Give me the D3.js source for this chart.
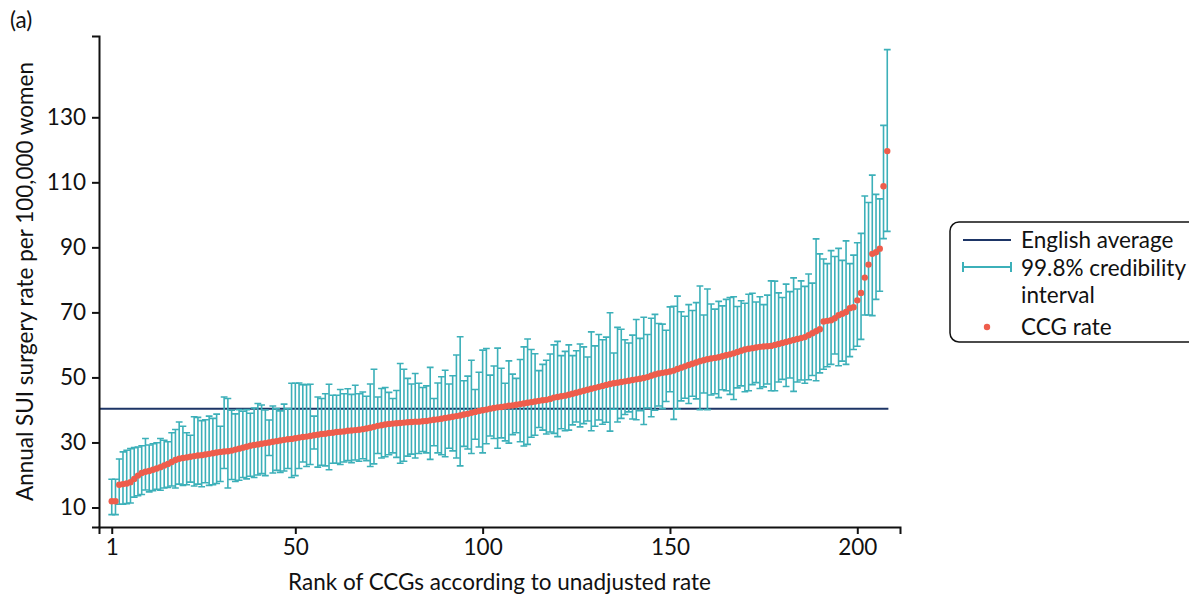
<!DOCTYPE html>
<html>
<head>
<meta charset="utf-8">
<script src="https://cdn.jsdelivr.net/npm/d3@7"></script>
<style>
  body { margin: 0; background: #fff; }
  text { font-family: Lato, "Noto Sans", sans-serif; fill: #111; }
</style>
</head>
<body>
<script>
// CCG rates (sorted by rank), lower and upper 99.8% credibility limits
var rate = [
  11.9, 11.9, 17.0, 17.2, 17.4, 17.8, 18.8, 19.8, 20.6, 21.0,
  21.2, 21.6, 22.0, 22.4, 22.9, 23.4, 24.0, 24.6, 25.0, 25.2,
  25.4, 25.6, 25.8, 26.0, 26.1, 26.3, 26.5, 26.7, 26.9, 27.1,
  27.2, 27.3, 27.5, 27.8, 28.1, 28.4, 28.7, 29.0, 29.2, 29.4,
  29.6, 29.8, 30.0, 30.2, 30.4, 30.6, 30.8, 31.0, 31.1, 31.3,
  31.5, 31.7, 31.8, 32.0, 32.2, 32.4, 32.6, 32.7, 32.9, 33.0,
  33.2, 33.3, 33.4, 33.6, 33.7, 33.8, 33.9, 34.1, 34.3, 34.5,
  34.8, 35.1, 35.3, 35.5, 35.7, 35.8, 35.9, 36.0, 36.1, 36.2,
  36.3, 36.4, 36.4, 36.5, 36.6, 36.8, 37.0, 37.1, 37.3, 37.5,
  37.7, 37.9, 38.1, 38.3, 38.6, 38.8, 39.1, 39.4, 39.7, 39.9,
  40.1, 40.4, 40.6, 40.8, 40.9, 41.1, 41.3, 41.4, 41.6, 41.8,
  42.0, 42.2, 42.4, 42.6, 42.8, 43.0, 43.1, 43.4, 43.8, 44.0,
  44.2, 44.4, 44.7, 45.0, 45.3, 45.6, 45.9, 46.2, 46.5, 46.8,
  47.1, 47.4, 47.7, 48.0, 48.2, 48.4, 48.6, 48.8, 49.0, 49.2,
  49.4, 49.6, 49.8, 50.1, 50.5, 50.9, 51.2, 51.4, 51.6, 51.8,
  52.1, 52.6, 53.0, 53.4, 53.8, 54.2, 54.6, 55.0, 55.3, 55.6,
  55.8, 56.0, 56.2, 56.5, 56.8, 57.1, 57.4, 57.8, 58.2, 58.6,
  58.8, 59.0, 59.2, 59.4, 59.5, 59.6, 59.7, 60.0, 60.3, 60.6,
  60.9, 61.2, 61.5, 61.8, 62.1, 62.4, 63.0, 63.6, 64.2, 64.8,
  67.2, 67.4, 67.6, 68.2, 69.1, 69.6, 70.1, 71.3, 71.6, 73.7,
  76.0, 80.7, 84.7, 88.0, 88.5, 89.6, 108.8, 119.6
];
var lower = [
  7.8, 7.8, 11.0, 11.0, 11.2, 11.4, 13.2, 13.6, 14.0, 15.4,
  14.8, 15.2, 15.6, 15.3, 16.0, 16.2, 16.6, 16.0, 17.2, 16.8,
  17.0, 17.8, 16.6, 17.2, 16.4, 17.6, 16.8, 17.0, 17.4, 18.0,
  22.0, 16.0, 18.6, 18.0, 18.4, 19.2, 18.8, 19.6, 19.2, 20.0,
  20.4, 19.8, 26.0, 20.6, 21.4, 20.8, 21.2, 22.0, 19.2, 19.8,
  22.0, 24.0, 22.6, 23.2, 28.0, 22.4, 23.0, 22.8, 21.6, 23.6,
  23.6, 23.2, 24.0, 24.4, 23.8, 24.6, 24.2, 25.0, 24.4, 22.6,
  23.4, 26.6, 25.2, 25.6, 26.2, 26.8, 25.4, 23.6, 24.2, 25.8,
  26.4, 25.2, 26.6, 27.2, 26.8, 24.8, 29.0, 26.8, 26.2, 25.6,
  28.2, 27.4, 25.2, 22.8, 28.8, 28.0, 26.6, 31.0, 28.6, 26.8,
  29.6, 32.0, 31.2, 28.2, 31.4, 30.5, 29.8, 32.4, 33.0, 30.2,
  28.9, 29.4, 31.6, 32.2, 34.6, 33.8, 32.6, 33.2, 32.8, 31.8,
  34.2, 33.6, 33.8, 35.4, 36.3, 34.8, 35.8, 36.6, 33.6, 35.0,
  36.9, 35.6, 36.2, 33.5, 40.2, 36.3, 37.4, 38.6, 39.4, 37.2,
  37.0, 39.8, 35.5, 40.6, 37.9, 39.9, 41.2, 40.4, 42.6, 45.6,
  37.1, 40.2, 42.8, 43.6, 42.0, 44.2, 43.4, 40.1, 45.2, 40.1,
  44.6, 45.0, 43.8, 46.2, 45.9, 44.8, 43.2, 46.8, 47.4, 45.6,
  45.9, 47.8, 48.4, 46.6, 47.1, 48.0, 45.9, 45.9, 48.6, 49.4,
  47.2, 49.8, 45.7, 48.6, 49.2, 48.2, 49.3, 50.6, 49.0, 51.4,
  52.5, 53.3, 54.0, 57.2, 53.6, 55.0, 54.0, 56.4, 58.6, 59.6,
  61.7, 69.2, 69.2, 69.0, 74.0, 76.5, 92.7, 94.9
];
var upper = [
  18.7, 18.7, 24.9, 27.1, 27.6, 28.1, 28.4, 28.6, 29.0, 31.2,
  29.2, 29.6, 29.9, 31.2, 30.7, 30.2, 33.0, 34.0, 36.3, 35.0,
  33.0, 32.2, 37.9, 37.7, 36.7, 37.0, 38.1, 37.4, 38.7, 35.0,
  44.0, 43.5, 39.9, 38.8, 40.1, 39.6, 40.1, 39.0, 40.6, 42.0,
  41.5, 40.0, 36.9, 41.2, 40.4, 39.7, 41.8, 40.4, 48.2, 48.2,
  48.3, 47.8, 47.8, 47.9, 38.1, 44.0, 43.5, 45.0, 47.9, 44.5,
  44.5, 46.3, 45.0, 46.5, 44.8, 47.6, 45.0, 45.5, 44.2, 48.0,
  52.5, 44.0, 46.6, 46.9, 45.4, 43.5, 46.0, 54.3, 52.5, 49.7,
  48.0, 51.2, 48.2, 46.9, 47.4, 53.1, 43.5, 48.3, 50.2, 52.2,
  48.0, 50.5, 56.9, 62.5, 49.0, 50.4, 55.3, 46.3, 51.6, 58.4,
  58.9, 50.7, 53.5, 59.0, 52.8, 48.2, 55.1, 51.0, 49.7, 55.5,
  59.4, 61.8, 58.6, 57.3, 52.1, 54.0, 55.3, 57.2, 60.0, 61.1,
  56.7, 58.0, 60.0, 56.7, 58.2, 60.3, 59.4, 56.3, 64.0, 59.7,
  63.2, 61.6, 62.4, 69.9, 57.5, 65.4, 64.8, 61.6, 60.6, 63.0,
  67.8, 62.0, 68.5, 63.2, 68.2, 69.4, 66.6, 66.4, 64.5, 71.7,
  71.9, 75.0, 70.2, 68.8, 72.4, 70.6, 73.0, 78.1, 69.2, 77.2,
  72.6, 71.0, 73.4, 72.0, 74.0, 74.6, 74.8, 71.8, 73.6, 72.8,
  75.6, 75.9, 73.2, 74.8, 72.4, 75.3, 79.7, 79.6, 76.0, 74.6,
  78.7, 76.4, 80.6, 77.2, 79.7, 78.0, 81.8, 79.0, 92.6, 88.0,
  86.4, 85.0, 89.0, 87.2, 89.7, 86.0, 92.0, 85.0, 87.6, 91.4,
  94.3, 105.8, 103.8, 112.2, 106.3, 104.9, 127.5, 150.8
];
var englishAverage = 40.4;

var xTicks = [1, 50, 100, 150, 200];
var yTicks = [10, 30, 50, 70, 90, 110, 130];

var teal = "#3cb0b9",
    coral = "#ee5d4c",
    navy = "#1d3566";

// plot box (pixels)
var W = 1189, H = 597;
var pLeft = 99, pRight = 900, pTop = 36, pBottom = 527;
var fs = "22.5px";

var svg = d3.select("body").append("svg")
  .attr("width", W)
  .attr("height", H);

// scales
var x = d3.scaleLinear().domain([-2.4, 211.4]).range([pLeft, pRight]);
var y = d3.scaleLinear().domain([4, 155]).range([pBottom, pTop]);

var data = rate.map(function(r, i) {
  return {rank: i + 1, rate: r, lo: lower[i], hi: upper[i]};
});

// english average line (runs to the last CCG)
svg.append("line")
  .attr("x1", x(-2.4)).attr("x2", x(data.length + 0.3))
  .attr("y1", y(englishAverage)).attr("y2", y(englishAverage))
  .attr("stroke", navy)
  .attr("stroke-width", 2);

// credibility intervals
var capW = 3.4;
var bars = svg.append("g")
  .attr("stroke", teal)
  .attr("stroke-width", 1.6)
  .attr("fill", "none");

bars.selectAll("path").data(data)
  .enter().append("path")
  .attr("d", function(d) {
    var cx = x(d.rank), y0 = y(d.lo), y1 = y(d.hi);
    return "M" + (cx - capW) + "," + y1 + "H" + (cx + capW) +
      "M" + cx + "," + y1 + "V" + y0 +
      "M" + (cx - capW) + "," + y0 + "H" + (cx + capW);
  });

// points
svg.append("g").selectAll("circle").data(data)
  .enter().append("circle")
  .attr("cx", function(d) { return x(d.rank); })
  .attr("cy", function(d) { return y(d.rate); })
  .attr("r", 3.2)
  .attr("fill", coral);

// axes
var xAxis = svg.append("g")
  .attr("transform", "translate(0," + pBottom + ")")
  .call(d3.axisBottom(x).tickValues(xTicks).tickSize(7).tickPadding(5));
var yAxis = svg.append("g")
  .attr("transform", "translate(" + pLeft + ",0)")
  .call(d3.axisLeft(y).tickValues(yTicks).tickSize(7).tickPadding(6));

[xAxis, yAxis].forEach(function(a) {
  a.select(".domain").attr("stroke", "#111").attr("stroke-width", 2);
  a.selectAll(".tick line").attr("stroke", "#111").attr("stroke-width", 2);
  a.selectAll(".tick text").style("font-size", fs).attr("fill", "#111");
});

// labels
svg.append("text")
  .attr("x", (pLeft + pRight) / 2)
  .attr("y", 590)
  .attr("text-anchor", "middle")
  .style("font-size", fs)
  .text("Rank of CCGs according to unadjusted rate");

svg.append("text")
  .attr("transform", "translate(33," + ((pTop + pBottom) / 2) + ") rotate(-90)")
  .attr("text-anchor", "middle")
  .style("font-size", fs)
  .text("Annual SUI surgery rate per 100,000 women");

svg.append("text")
  .attr("x", 10).attr("y", 28)
  .style("font-size", fs)
  .text("(a)");

// legend
var lg = svg.append("g").attr("transform", "translate(950,222)");
lg.append("rect")
  .attr("width", 260).attr("height", 120)
  .attr("rx", 9)
  .attr("fill", "#fff")
  .attr("stroke", "#111")
  .attr("stroke-width", 1.5);

lg.append("line")
  .attr("x1", 13).attr("x2", 61).attr("y1", 18).attr("y2", 18)
  .attr("stroke", navy).attr("stroke-width", 2);
lg.append("path")
  .attr("d", "M13,40V50M13,45H61M61,40V50")
  .attr("stroke", teal).attr("stroke-width", 2).attr("fill", "none");
lg.append("circle")
  .attr("cx", 37).attr("cy", 105).attr("r", 3.2)
  .attr("fill", coral);

var legText = [["English average", 26], ["99.8% credibility", 54], ["interval", 81], ["CCG rate", 113]];
lg.selectAll("text.lt").data(legText)
  .enter().append("text")
  .attr("class", "lt")
  .attr("x", 71)
  .attr("y", function(d) { return d[1]; })
  .style("font-size", fs)
  .text(function(d) { return d[0]; });
</script>
</body>
</html>
